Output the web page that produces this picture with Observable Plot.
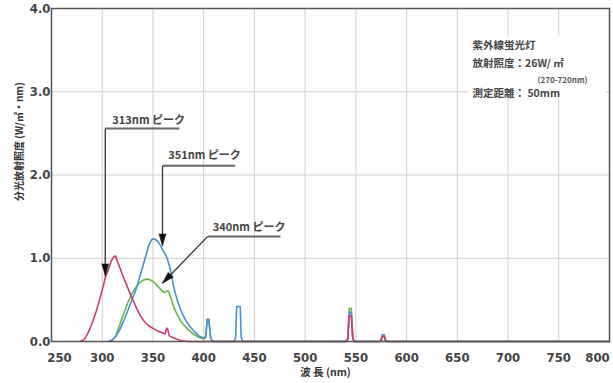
<!DOCTYPE html>
<html><head><meta charset="utf-8">
<script src="https://cdn.jsdelivr.net/npm/d3@7"></script>
<script src="https://cdn.jsdelivr.net/npm/@observablehq/plot@0.6"></script>
<style>body{margin:0;background:#fff}</style>
</head><body><div id="chart"></div>
<script>
// ---- axis ticks ----
const xTicks = [250, 300, 350, 400, 450, 500, 550, 600, 650, 700, 750, 800];
const xGridLines = [300, 350, 400, 450, 500, 550, 600, 650, 700, 750];
const yTicks = [0, 1, 2, 3, 4];
const yGridLines = [1, 2, 3];
const xTitle = "波 長 (nm)";
const yTitle = "分光放射照度 (W/㎡・nm)";

// ---- series: 313nm peak (pink) ----
const pinkNm  = [278,282,286,290,294,298,301,303,306,309,311,313,315,317,320,323,326,329,332,335,338,341,344,347,350,354,358,362,363.5,364.5,366,369,373,378,384, 540,542,543.5,545.5,547,549, 574,576,578,580, 800];
const pinkVal = [0,0.02,0.1,0.22,0.36,0.53,0.66,0.77,0.86,0.97,1.01,1.03,0.96,0.9,0.8,0.71,0.62,0.53,0.45,0.37,0.3,0.25,0.21,0.18,0.16,0.13,0.11,0.09,0.16,0.15,0.07,0.05,0.03,0.01,0, 0,0.03,0.31,0.31,0.03,0, 0,0.06,0.06,0, 0];

// ---- series: 351nm peak (blue) ----
const blueNm  = [306,310,314,318,322,326,330,334,337,340,343,346,349,352,355,358,360,362,364,366,368,370,372,375,378,382,386,390,395,400,402,403.5,405,407,410,430,431.5,432.5,436,437,439,540,542,543.5,545.5,547,549,573,575,576,578,579,581,800];
const blueVal = [0,0.02,0.07,0.16,0.27,0.4,0.52,0.65,0.78,0.9,1.03,1.16,1.23,1.23,1.2,1.14,1.09,1.05,1.0,0.92,0.82,0.68,0.58,0.46,0.36,0.26,0.19,0.13,0.07,0.04,0.06,0.27,0.27,0.03,0,0,0.05,0.42,0.42,0.05,0,0,0.03,0.35,0.35,0.03,0,0,0.02,0.08,0.08,0.02,0,0];

// ---- series: 340nm peak (green) ----
const greenNm  = [309,313,317,321,325,329,333,337,341,345,349,352,355,358,361,363,365,367,369,371,374,377,381,385,390,395,400,402,403.5,405,407,410,540,542,543.5,545.5,547,549,575,576,578,579,800];
const greenVal = [0,0.06,0.19,0.33,0.46,0.57,0.65,0.71,0.74,0.75,0.73,0.7,0.66,0.62,0.59,0.6,0.61,0.55,0.47,0.4,0.32,0.25,0.19,0.14,0.09,0.05,0.03,0.05,0.26,0.26,0.03,0,0,0.03,0.4,0.4,0.03,0,0,0.06,0.06,0,0];

// ---- callouts ----
const calloutLabels    = ["313nm ピーク", "351nm ピーク", "340nm ピーク"];
const calloutTextNm    = [310, 365, 409];
const calloutTextVal   = [2.66, 2.24, 1.37];
const underlineFromNm  = [303, 359.4, 403.8];
const underlineToNm    = [376, 431, 475.7];
const underlineVal     = [2.56, 2.11, 1.26];
const pointerTipNm     = [303, 359.4, 359.4];
const pointerTipVal    = [0.79, 1.15, 0.70];
const pointerAngle     = [180, 180, 224];

// ---- info box ----
const infoLines = ["紫外線蛍光灯", "放射照度：26W/ ㎡", "測定距離： 50mm"];
const infoNm    = [665, 665, 665];
const infoVal   = [3.56, 3.34, 2.98];
const infoSmall = ["(270-720nm)"];
const infoSmallNm = [729];
const infoSmallVal = [3.135];
const infoBox = [{x1: 661, x2: 797, y1: 2.92, y2: 3.66}];

const toRows = (nm, val) => nm.map((x, i) => ({x, y: val[i]}));
const pink = toRows(pinkNm, pinkVal);
const blue = toRows(blueNm, blueVal);
const green = toRows(greenNm, greenVal);
const callouts = calloutLabels.map((t, i) => ({
  t, tx: calloutTextNm[i], ty: calloutTextVal[i],
  u1: underlineFromNm[i], u2: underlineToNm[i], uy: underlineVal[i],
  px: pointerTipNm[i], py: pointerTipVal[i], a: pointerAngle[i]
}));
const info = infoLines.map((t, i) => ({t, x: infoNm[i], y: infoVal[i]}));
const small = infoSmall.map((t, i) => ({t, x: infoSmallNm[i], y: infoSmallVal[i]}));

const tickFont = "'Liberation Sans Narrow','DejaVu Sans Condensed','Liberation Sans',sans-serif";
const jpFont = "'Liberation Sans Narrow','Noto Sans CJK JP',sans-serif";

const chart = Plot.plot({
  width: 613, height: 383,
  marginLeft: 51, marginRight: 4, marginTop: 8, marginBottom: 42,
  style: {fontFamily: jpFont, background: "#fff", color: "#333"},
  x: {domain: [250, 800]},
  y: {domain: [0, 4]},
  marks: [
    Plot.gridX(xGridLines, {stroke: "#cfcfcf", strokeOpacity: 1, strokeWidth: 1}),
    Plot.gridY(yGridLines, {stroke: "#cfcfcf", strokeOpacity: 1, strokeWidth: 1.2}),
    Plot.rect(infoBox, {x1: "x1", x2: "x2", y1: "y1", y2: "y2", fill: "#fff"}),
    Plot.line(green, {x: "x", y: "y", stroke: "#66b845", strokeWidth: 1.6}),
    Plot.line(blue, {x: "x", y: "y", stroke: "#4a8fd3", strokeWidth: 1.6}),
    Plot.line(pink, {x: "x", y: "y", stroke: "#d2387c", strokeWidth: 1.6}),
    // callouts
    Plot.link(callouts, {x1: "u1", x2: "u2", y1: "uy", y2: "uy", stroke: "#666", strokeWidth: 2}),
    Plot.link(callouts, {x1: "u1", y1: "uy", x2: "px", y2: "py", stroke: "#333", strokeWidth: 1.3}),
    Plot.vector(callouts, {x: "px", y: "py", rotate: "a", anchor: "end", length: 12, shape: "spike", r: 3.5, fill: "#111", stroke: "#111", strokeWidth: 0.5}),
    Plot.text(callouts, {x: "tx", y: "ty", text: "t", textAnchor: "start", fontSize: 11, fontWeight: "bold", fill: "#444", fontFamily: jpFont}),
    // info box
    Plot.text(info, {x: "x", y: "y", text: "t", textAnchor: "start", fontSize: 10.5, fontWeight: "bold", fill: "#444", fontFamily: jpFont}),
    Plot.text(small, {x: "x", y: "y", text: "t", textAnchor: "start", fontSize: 8, fontWeight: "bold", fill: "#555", fontFamily: jpFont}),
    Plot.frame({stroke: "#555", strokeWidth: 1.5}),
    // axes
    Plot.axisX(xTicks.slice(1, -1), {tickSize: 0, tickPadding: 11, fontSize: 13, fontWeight: "bold", fill: "#444", fontFamily: tickFont, label: null}),
    Plot.axisX(xTicks.slice(0, 1), {tickSize: 0, tickPadding: 11, dx: 8, fontSize: 13, fontWeight: "bold", fill: "#444", fontFamily: tickFont, label: null}),
    Plot.axisX(xTicks.slice(-1), {tickSize: 0, tickPadding: 11, dx: -12, fontSize: 13, fontWeight: "bold", fill: "#444", fontFamily: tickFont, label: null}),
    Plot.axisY(yTicks, {tickSize: 0, tickPadding: 1, tickFormat: d3.format(".1f"), fontSize: 13, fontWeight: "bold", fill: "#444", fontFamily: tickFont, label: null}),
    Plot.text([xTitle], {frameAnchor: "bottom", dx: -5, dy: 34, fontSize: 10.5, fontWeight: "bold", fill: "#333", fontFamily: jpFont}),
    Plot.text([yTitle], {frameAnchor: "left", rotate: -90, dx: -32, dy: 26, fontSize: 10, fontWeight: "bold", fill: "#333", fontFamily: jpFont})
  ]
});
document.getElementById("chart").appendChild(chart);
</script>
</body></html>
